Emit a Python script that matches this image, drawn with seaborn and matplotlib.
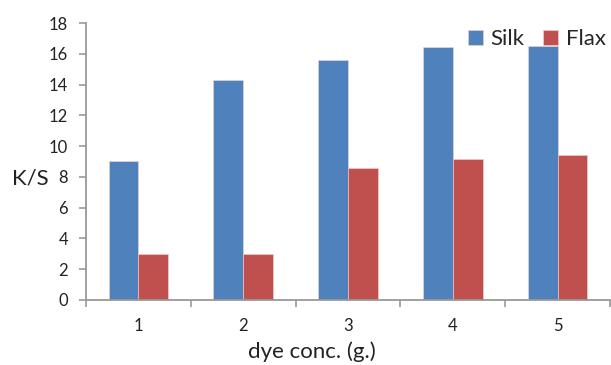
import matplotlib
matplotlib.use("Agg")
import matplotlib.pyplot as plt
from matplotlib.ticker import FixedLocator
import seaborn as sns
import pandas as pd

# Chart data
conc = ["1", "2", "3", "4", "5"]
silk = [9.03, 14.3, 15.6, 16.45, 16.5]
flax = [3.0, 3.02, 8.57, 9.15, 9.4]

colors = {"Silk": "#4F81BD", "Flax": "#C0504D"}


def main():
    df = pd.DataFrame({
        "conc": conc * 2,
        "KS": silk + flax,
        "fiber": ["Silk"] * len(silk) + ["Flax"] * len(flax),
    })

    sns.set_theme(style="white")
    plt.rcParams["font.family"] = ["Lato", "DejaVu Sans"]

    fig = plt.figure(figsize=(6.11, 3.65), dpi=100)
    ax = fig.add_axes([86 / 611, 1 - 300 / 365, 524 / 611, 277 / 365])

    sns.barplot(data=df, x="conc", y="KS", hue="fiber", palette=colors,
                width=0.57, gap=0, ax=ax, edgecolor="#f4d4d4", linewidth=0.4,
                saturation=1)

    ax.set_xlim(-0.5, 4.5)
    ax.set_ylim(0, 18)
    ax.set_yticks(range(0, 19, 2))

    # ticks between categories, labels at centres
    ax.xaxis.set_minor_locator(FixedLocator([i - 0.5 for i in range(6)]))
    ax.tick_params(axis="x", which="major", length=0, pad=13, labelsize=12, colors="#222222")
    ax.tick_params(axis="x", which="minor", length=5, width=1.2, color="#999999", bottom=True)
    ax.tick_params(axis="y", length=5, width=1.2, color="#999999", pad=8,
                   labelsize=12, labelcolor="#222222", left=True)

    sns.despine(ax=ax)
    for side in ["left", "bottom"]:
        ax.spines[side].set_color("#999999")
        ax.spines[side].set_linewidth(1.3)

    ax.set_xlabel("dye conc. (g.)", fontsize=16, color="#222222")
    ax.xaxis.set_label_coords((312 - 86) / 524, -0.15)
    ax.set_ylabel("K/S", fontsize=16, rotation=0, color="#222222", va="center", ha="left")
    ax.yaxis.set_label_coords((12 - 86) / 524, 0.44)

    ax.legend(loc="upper right", bbox_to_anchor=(1.03, 1.05), ncol=2, frameon=False,
              fontsize=16, handlelength=0.65, handleheight=0.65, handletextpad=0.35,
              columnspacing=0.85, title=None)

    plt.savefig("out.png", dpi=100)


if __name__ == "__main__":
    main()
